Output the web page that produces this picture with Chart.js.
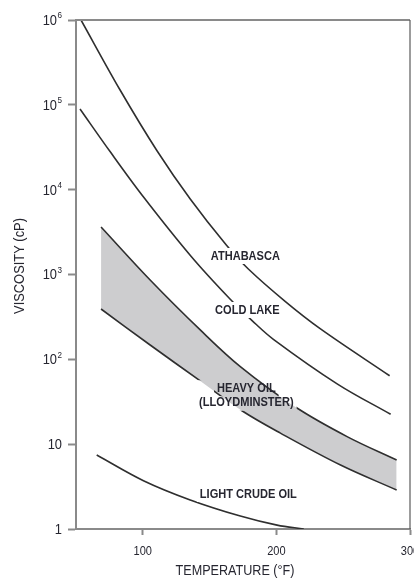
<!DOCTYPE html>
<html>
<head>
<meta charset="utf-8">
<script src="https://cdn.jsdelivr.net/npm/chart.js@4.4.0/dist/chart.umd.min.js"></script>
<style>
  html, body { margin: 0; padding: 0; background: #ffffff; }
  #wrap { width: 414px; height: 579px; }
</style>
</head>
<body>
<div id="wrap"><canvas id="chart" width="414" height="579"></canvas></div>
<script>
// Temperature (°F) and viscosity (cP) along each curve
const athabascaTemp = [53.75, 83, 110.75, 135.5, 162.5, 179, 206.75, 233, 284.75];
const athabascaVisc = [1000000, 149600, 28580, 7770, 2228, 1161, 479.5, 228.5, 64];

const coldLakeTemp = [53, 75.5, 100.25, 136.25, 164.75, 182, 197.75, 245.75, 285.5];
const coldLakeVisc = [89350, 28120, 8310, 1631, 524.6, 284.6, 172.3, 51.1, 22.5];

const heavyUpperTemp = [68.75, 105.5, 143, 173, 214.25, 253.25, 290];
const heavyUpperVisc = [3630, 861, 222, 82, 27.4, 12.2, 6.5];

const heavyLowerTemp = [68.75, 105.5, 143, 174.5, 203, 248, 290];
const heavyLowerVisc = [392, 147.6, 55.6, 24.6, 13.5, 5.68, 2.88];

const lightCrudeTemp = [65.5, 100.5, 135.5, 173, 200.5, 220.5];
const lightCrudeVisc = [7.45, 3.71, 2.2, 1.42, 1.11, 1.0];

// Axis ticks
const xTickValues = [100, 200, 300];
const xTickLabels = ['100', '200', '300'];
const yTickValues = [1, 10, 100, 1000, 10000, 100000, 1000000];
const yTickBase = ['1', '10', '10', '10', '10', '10', '10'];
const yTickExponent = ['', '', '2', '3', '4', '5', '6'];

// Curve names, anchored in data units (temperature, viscosity)
const curveLabels = [
  { lines: ['ATHABASCA'], temp: 176.75, visc: 1650 },
  { lines: ['COLD LAKE'], temp: 178.25, visc: 382 },
  { lines: ['HEAVY OIL', '(LLOYDMINSTER)'], temp: 177.5, visc: 37.5 },
  { lines: ['LIGHT CRUDE OIL'], temp: 179, visc: 2.59 }
];

const FONT = "'Liberation Sans', Arial, 'DejaVu Sans', sans-serif";
const TEXT_COLOR = '#262630';
const AXIS_COLOR = '#8a8a8a';
const CURVE_COLOR = '#2f2f2f';
const BAND_COLOR = '#cdcdcf';
const LABEL_FONT = 'bold 13px ' + FONT;
const LABEL_SQUEEZE = 0.85;
const LABEL_LINE = 14.5;

const toPoints = (xs, ys) => xs.map((x, i) => ({ x: x, y: ys[i] }));

function curve(label, xs, ys, extra) {
  return Object.assign({
    label: label,
    data: toPoints(xs, ys),
    borderColor: CURVE_COLOR,
    borderWidth: 1.6,
    pointRadius: 0,
    fill: false,
    tension: 0.35,
    isCurve: true
  }, extra || {});
}

// Condensed text: horizontally squeezed sans-serif
function squeezedText(ctx, text, x, y, font, squeeze, align) {
  ctx.save();
  ctx.font = font;
  ctx.translate(x, y);
  ctx.scale(squeeze, 1);
  ctx.textAlign = align || 'center';
  ctx.textBaseline = 'middle';
  ctx.fillText(text, 0, 0);
  ctx.restore();
}
function squeezedWidth(ctx, text, font, squeeze) {
  ctx.save();
  ctx.font = font;
  const w = ctx.measureText(text).width * squeeze;
  ctx.restore();
  return w;
}

// Pixel boxes of the curve names, used for text and for the gaps in the curves
function labelBoxes(chart) {
  const ctx = chart.ctx;
  const xs = chart.scales.x, ys = chart.scales.y;
  const boxes = [];
  curveLabels.forEach(l => {
    const cx = xs.getPixelForValue(l.temp);
    const cy = ys.getPixelForValue(l.visc);
    const n = l.lines.length;
    l.lines.forEach((t, i) => {
      const w = squeezedWidth(ctx, t, LABEL_FONT, LABEL_SQUEEZE);
      const y = cy + (i - (n - 1) / 2) * LABEL_LINE;
      const top = y - 8 - (i > 0 ? LABEL_LINE : 0);
      boxes.push({ text: t, cx: cx, cy: y, x: cx - w / 2 - 3, y: top, w: w + 6, h: y + 8 - top });
    });
  });
  return boxes;
}

const curveLabelPlugin = {
  id: 'curveLabelPlugin',
  beforeDatasetDraw(chart, args) {
    const ds = chart.data.datasets[args.index];
    if (!ds.isCurve) return;
    const ctx = chart.ctx;
    const boxes = labelBoxes(chart);
    ctx.save();
    ctx.beginPath();
    ctx.rect(0, 0, chart.width, chart.height);
    boxes.forEach(b => ctx.rect(b.x, b.y, b.w, b.h));
    ctx.clip('evenodd');
  },
  afterDatasetDraw(chart, args) {
    const ds = chart.data.datasets[args.index];
    if (!ds.isCurve) return;
    chart.ctx.restore();
  },
  afterDraw(chart) {
    const ctx = chart.ctx;
    const a = chart.chartArea;
    const xs = chart.scales.x, ys = chart.scales.y;
    ctx.save();
    // frame: top edge and right edge
    ctx.strokeStyle = AXIS_COLOR;
    ctx.lineWidth = 2;
    ctx.beginPath();
    ctx.moveTo(a.left, a.top);
    ctx.lineTo(a.right, a.top);
    ctx.stroke();
    ctx.strokeStyle = '#5a5a5a';
    ctx.lineWidth = 1.2;
    ctx.beginPath();
    ctx.moveTo(a.right, a.top);
    ctx.lineTo(a.right, a.bottom);
    ctx.stroke();

    ctx.fillStyle = TEXT_COLOR;
    // curve names
    labelBoxes(chart).forEach(b => squeezedText(ctx, b.text, b.cx, b.cy, LABEL_FONT, LABEL_SQUEEZE, 'center'));

    // x tick labels
    const xFont = '12px ' + FONT;
    xTickValues.forEach((v, i) => {
      squeezedText(ctx, xTickLabels[i], xs.getPixelForValue(v), a.bottom + 23, xFont, 0.92, 'center');
    });

    // y tick labels: 10 with raised exponent
    const baseFont = '14px ' + FONT;
    const expFont = '9px ' + FONT;
    const right = a.left - 14;
    yTickValues.forEach((v, i) => {
      const y = ys.getPixelForValue(v) + 1;
      const exp = yTickExponent[i];
      const ew = exp ? squeezedWidth(ctx, exp, expFont, 0.9) + 0.5 : 0;
      squeezedText(ctx, yTickBase[i], right - ew, y, baseFont, 0.92, 'right');
      if (exp) squeezedText(ctx, exp, right, y - 5, expFont, 0.9, 'right');
    });

    // axis titles
    const titleFont = '14px ' + FONT;
    squeezedText(ctx, 'TEMPERATURE (°F)', xs.getPixelForValue(169), 571, titleFont, 0.9, 'center');
    ctx.save();
    ctx.translate(20, 266);
    ctx.rotate(-Math.PI / 2);
    squeezedText(ctx, 'VISCOSITY (cP)', 0, 0, titleFont, 0.92, 'center');
    ctx.restore();
    ctx.restore();
  }
};

new Chart(document.getElementById('chart'), {
  type: 'line',
  data: {
    datasets: [
      curve('Athabasca', athabascaTemp, athabascaVisc),
      curve('Cold Lake', coldLakeTemp, coldLakeVisc),
      curve('Heavy oil (lower)', heavyLowerTemp, heavyLowerVisc),
      curve('Heavy oil (upper)', heavyUpperTemp, heavyUpperVisc, { fill: '-1', backgroundColor: BAND_COLOR }),
      curve('Light crude oil', lightCrudeTemp, lightCrudeVisc)
    ]
  },
  options: {
    responsive: false,
    animation: false,
    devicePixelRatio: 1,
    layout: { padding: { top: 20, right: 4, bottom: 0, left: 0 } },
    plugins: {
      legend: { display: false },
      tooltip: { enabled: false }
    },
    scales: {
      x: {
        type: 'linear',
        min: 50,
        max: 300,
        border: { color: AXIS_COLOR, width: 2 },
        grid: { drawOnChartArea: false, drawTicks: true, tickLength: 6, tickColor: AXIS_COLOR, tickWidth: 2 },
        ticks: { display: false },
        afterBuildTicks: (s) => { s.ticks = xTickValues.map(v => ({ value: v })); },
        afterFit: (s) => { s.height = 50; s.paddingLeft = 0; s.paddingRight = 0; }
      },
      y: {
        type: 'logarithmic',
        min: 1,
        max: 1000000,
        border: { color: AXIS_COLOR, width: 2 },
        grid: { drawOnChartArea: false, drawTicks: true, tickLength: 8, tickColor: AXIS_COLOR, tickWidth: 2 },
        ticks: { display: false },
        afterBuildTicks: (s) => { s.ticks = yTickValues.map(v => ({ value: v })); },
        afterFit: (s) => { s.width = 76; s.paddingTop = 0; s.paddingBottom = 0; }
      }
    }
  },
  plugins: [curveLabelPlugin]
});
</script>
</body>
</html>
